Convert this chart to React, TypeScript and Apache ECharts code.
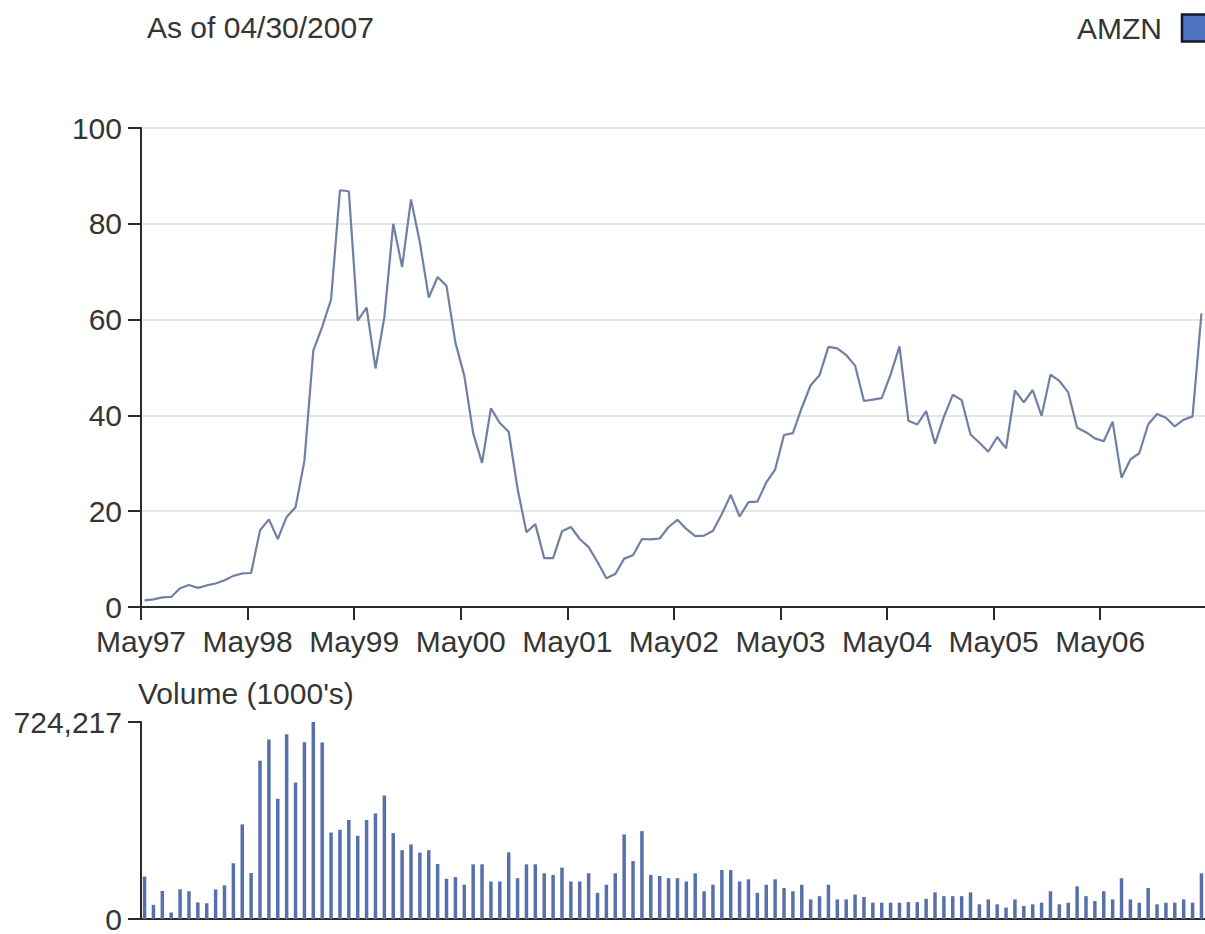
import React, { useEffect, useRef } from "react";
import * as echarts from "echarts";

// Monthly closes (split-adjusted, USD), May 1997 .. Apr 2007
const priceCloses: number[] = [
  1.4, 1.6, 2.0, 2.1, 3.9, 4.6, 4.0, 4.5, 4.9, 5.6, 6.5, 7.0,
  7.1, 16.0, 18.3, 14.2, 18.8, 20.8, 30.5, 53.5, 58.5, 64.2, 87.0, 86.8,
  59.8, 62.5, 49.8, 60.5, 80.0, 71.0, 85.1, 76.1, 64.6, 68.9, 67.0, 55.2,
  48.3, 36.3, 30.1, 41.5, 38.4, 36.6, 24.7, 15.6, 17.3, 10.2, 10.2, 15.8,
  16.7, 14.2, 12.5, 9.4, 6.0, 6.9, 10.1, 10.8, 14.2, 14.1, 14.3, 16.7,
  18.2, 16.3, 14.8, 14.9, 15.9, 19.4, 23.4, 18.9, 21.9, 22.0, 26.0, 28.7,
  35.9, 36.3, 41.6, 46.3, 48.4, 54.3, 54.0, 52.6, 50.4, 43.0, 43.3, 43.6,
  48.5, 54.4, 38.9, 38.1, 40.9, 34.1, 39.7, 44.3, 43.2, 36.0, 34.3, 32.4,
  35.5, 33.1, 45.2, 42.7, 45.3, 39.9, 48.5, 47.2, 44.8, 37.4, 36.5, 35.2,
  34.6, 38.7, 27.0, 30.8, 32.1, 38.1, 40.3, 39.5, 37.7, 39.1, 39.8, 61.3,
];

// Monthly volume (1000's), May 1997 .. Apr 2007
const volumes: number[] = [
  156000, 52000, 103000, 24000, 109000, 102000, 61000, 58000, 109000, 124000, 205000, 348000,
  169000, 582000, 660000, 442000, 679000, 502000, 650000, 724217, 649000, 318000, 328000, 364000,
  306000, 364000, 388000, 454000, 316000, 253000, 274000, 244000, 253000, 202000, 148000, 154000,
  126000, 201000, 201000, 138000, 138000, 245000, 150000, 201000, 201000, 168000, 162000, 189000,
  138000, 138000, 168000, 96000, 126000, 168000, 311000, 213000, 323000, 162000, 158000, 150000,
  150000, 138000, 168000, 102000, 126000, 180000, 180000, 138000, 146000, 96000, 126000, 146000,
  114000, 102000, 126000, 72000, 84000, 126000, 72000, 72000, 90000, 81000, 60000, 60000,
  60000, 60000, 62000, 62000, 74000, 98000, 84000, 84000, 84000, 98000, 54000, 72000,
  54000, 42000, 72000, 48000, 54000, 60000, 102000, 54000, 60000, 120000, 84000, 66000,
  102000, 72000, 150000, 72000, 60000, 114000, 54000, 60000, 60000, 72000, 60000, 168000,
];

const tickLabels: string[] = [
  "May97", "May98", "May99", "May00", "May01", "May02", "May03", "May04", "May05", "May06",
];

const seriesName = "AMZN";
const asOfText = "As of 04/30/2007";
const volumeTitle = "Volume (1000's)";
const volumeMax = 724217;

// x unit: months counted from the mid-May 1997 start; closes sit near month end
const MONTH_END_OFFSET = 0.4;

const FONT = "'Liberation Sans', Arial, Helvetica, sans-serif";
const FONT_SIZE = 30;
const TEXT_COLOR = "#353535";
const AXIS_COLOR = "#2b2b2b";

export default function App() {
  const ref = useRef<HTMLDivElement>(null);

  useEffect(() => {
    if (!ref.current) return;
    const chart = echarts.init(ref.current, undefined, { renderer: "svg" });

    const pricePts = priceCloses.map((v, i) => [i + MONTH_END_OFFSET, v]);
    const volPts = volumes.map((v, i) => [i + MONTH_END_OFFSET, v]);
    const xMax = 119.8;

    const labelStyle = { fontSize: FONT_SIZE, color: TEXT_COLOR, fontFamily: FONT };

    chart.setOption({
      animation: false,
      backgroundColor: "#ffffff",
      textStyle: { fontFamily: FONT },
      title: [
        {
          text: asOfText,
          left: 142,
          top: 7,
          textStyle: { ...labelStyle, fontWeight: "normal" },
        },
        {
          text: volumeTitle,
          left: 133,
          top: 673,
          textStyle: { ...labelStyle, fontWeight: "normal" },
        },
      ],
      legend: {
        left: 1072,
        top: 8,
        align: "right",
        icon: "rect",
        itemWidth: 28,
        itemHeight: 27,
        textStyle: { ...labelStyle, padding: [0, 15, 0, 0] },
        data: [
          {
            name: seriesName,
            itemStyle: { color: "#4f73bf", borderColor: "#111a2c", borderWidth: 2.5 },
          },
        ],
      },
      grid: [
        { left: 141, top: 128, width: 1064, height: 479, containLabel: false },
        { left: 141, top: 722, width: 1064, height: 200, containLabel: false },
      ],
      xAxis: [
        {
          type: "value",
          gridIndex: 0,
          min: 0,
          max: xMax,
          interval: 12,
          axisLine: { show: true, lineStyle: { color: AXIS_COLOR, width: 2 } },
          axisTick: { show: true, length: 13, lineStyle: { color: AXIS_COLOR, width: 2 } },
          axisLabel: {
            show: true,
            margin: 19,
            ...labelStyle,
            showMaxLabel: false,
            formatter: (v: number) => tickLabels[Math.round(v / 12)] ?? "",
          },
          splitLine: { show: false },
        },
        {
          type: "value",
          gridIndex: 1,
          min: 0,
          max: xMax,
          interval: 12,
          axisLine: { show: true, lineStyle: { color: AXIS_COLOR, width: 2 } },
          axisTick: { show: false },
          axisLabel: { show: false },
          splitLine: { show: false },
        },
      ],
      yAxis: [
        {
          type: "value",
          gridIndex: 0,
          min: 0,
          max: 100,
          interval: 20,
          axisLine: { show: true, lineStyle: { color: AXIS_COLOR, width: 2 } },
          axisTick: { show: true, length: 13, lineStyle: { color: AXIS_COLOR, width: 2 } },
          axisLabel: { margin: 19, ...labelStyle },
          splitLine: { show: true, lineStyle: { color: "#e6e6e6", width: 2 } },
        },
        {
          type: "value",
          gridIndex: 1,
          min: 0,
          max: volumeMax,
          interval: volumeMax,
          axisLine: { show: true, lineStyle: { color: AXIS_COLOR, width: 2 } },
          axisTick: { show: true, length: 13, lineStyle: { color: AXIS_COLOR, width: 2 } },
          axisLabel: {
            margin: 19,
            ...labelStyle,
            formatter: (v: number) => Math.round(v).toLocaleString("en-US"),
          },
          splitLine: { show: false },
        },
      ],
      series: [
        {
          name: seriesName,
          type: "line",
          xAxisIndex: 0,
          yAxisIndex: 0,
          data: pricePts,
          showSymbol: false,
          symbol: "none",
          lineStyle: { color: "#6f80a4", width: 2.2 },
          itemStyle: { color: "#6f80a4" },
        },
        {
          name: "Volume",
          type: "bar",
          xAxisIndex: 1,
          yAxisIndex: 1,
          data: volPts,
          barWidth: 3.5,
          itemStyle: { color: "#5870aa" },
        },
      ],
    });

    return () => chart.dispose();
  }, []);

  return (
    <div
      ref={ref}
      style={{ position: "absolute", left: 0, top: 0, width: 1205, height: 934, background: "#fff" }}
    />
  );
}
